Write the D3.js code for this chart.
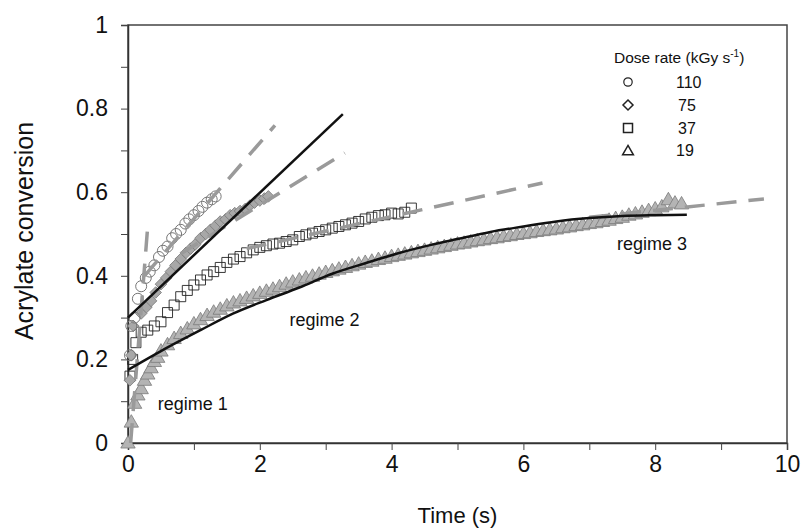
<!DOCTYPE html>
<html><head><meta charset="utf-8">
<script src="https://cdn.jsdelivr.net/npm/d3@7"></script>
<style>body{margin:0;background:#fff}text{font-family:"Liberation Sans",Arial,sans-serif;fill:#111}</style>
</head><body>
<svg id="c" width="801" height="532"></svg>
<script>
// ---- data (time s, conversion) ----
const xTicks = [0, 2, 4, 6, 8, 10];
const yTicks = [0, 0.2, 0.4, 0.6, 0.8, 1];
const yTickLabels = ["0", "0.2", "0.4", "0.6", "0.8", "1"];
const legendTitle = "Dose rate (kGy s";
const legendLabels = ["110", "75", "37", "19"];

const s110 = [[0.03,0.21],[0.05,0.28],[0.1,0.30],[0.15,0.345],[0.2,0.375],[0.27,0.395],[0.33,0.41],[0.4,0.425],[0.47,0.445],[0.53,0.46],[0.6,0.47],[0.67,0.49],[0.73,0.50],[0.8,0.51],[0.87,0.525],[0.93,0.535],[1.0,0.545],[1.07,0.555],[1.13,0.565],[1.2,0.575],[1.27,0.583],[1.33,0.59]];
const s75 = [[0.03,0.15],[0.05,0.21],[0.08,0.28],[0.2,0.31],[0.28,0.325],[0.35,0.34],[0.42,0.36],[0.5,0.38],[0.58,0.395],[0.65,0.41],[0.72,0.425],[0.8,0.44],[0.88,0.455],[0.95,0.465],[1.02,0.475],[1.1,0.49],[1.18,0.5],[1.25,0.51],[1.33,0.52],[1.4,0.53],[1.48,0.535],[1.55,0.545],[1.62,0.55],[1.7,0.555],[1.78,0.56],[1.85,0.568],[1.92,0.575],[2.0,0.58],[2.07,0.585],[2.13,0.59]];
const s37 = [[0.03,0.16],[0.07,0.2],[0.12,0.24],[0.2,0.265],[0.3,0.27],[0.4,0.28],[0.5,0.29],[0.6,0.312],[0.7,0.33],[0.8,0.35],[0.9,0.365],[1.0,0.378],[1.1,0.39],[1.2,0.402],[1.3,0.41],[1.4,0.42],[1.5,0.432],[1.6,0.44],[1.7,0.446],[1.8,0.455],[1.9,0.462],[2.0,0.468],[2.1,0.472],[2.2,0.476],[2.3,0.478],[2.4,0.482],[2.5,0.486],[2.6,0.494],[2.7,0.498],[2.8,0.502],[2.9,0.506],[3.0,0.51],[3.1,0.514],[3.2,0.518],[3.3,0.522],[3.4,0.526],[3.5,0.53],[3.6,0.536],[3.7,0.54],[3.8,0.544],[3.9,0.546],[4.0,0.55],[4.1,0.548],[4.2,0.552],[4.3,0.562]];
const s19 = [[0.0,0.0],[0.05,0.05],[0.1,0.095],[0.15,0.115],[0.2,0.13],[0.25,0.15],[0.3,0.165],[0.35,0.18],[0.4,0.195],[0.45,0.205],[0.5,0.22],[0.6,0.235],[0.7,0.25],[0.8,0.262],[0.9,0.273],[1.0,0.285],[1.1,0.295],[1.2,0.305],[1.3,0.313],[1.4,0.32],[1.5,0.328],[1.6,0.335],[1.7,0.34],[1.8,0.346],[1.9,0.352],[2.0,0.358],[2.1,0.363],[2.2,0.368],[2.3,0.374],[2.4,0.38],[2.5,0.385],[2.6,0.39],[2.7,0.395],[2.8,0.399],[2.9,0.404],[3.0,0.408],[3.1,0.412],[3.2,0.416],[3.3,0.42],[3.4,0.424],[3.5,0.428],[3.6,0.432],[3.7,0.435],[3.8,0.439],[3.9,0.442],[4.0,0.446],[4.1,0.449],[4.2,0.452],[4.3,0.455],[4.4,0.458],[4.5,0.461],[4.6,0.464],[4.7,0.467],[4.8,0.47],[4.9,0.473],[5.0,0.476],[5.1,0.478],[5.2,0.481],[5.3,0.484],[5.4,0.486],[5.5,0.489],[5.6,0.491],[5.7,0.494],[5.8,0.496],[5.9,0.499],[6.0,0.501],[6.1,0.503],[6.2,0.506],[6.3,0.508],[6.4,0.51],[6.5,0.512],[6.6,0.515],[6.7,0.517],[6.8,0.52],[6.9,0.522],[7.0,0.525],[7.1,0.527],[7.2,0.53],[7.3,0.533],[7.4,0.537],[7.5,0.54],[7.6,0.545],[7.7,0.548],[7.8,0.552],[7.9,0.556],[8.0,0.56],[8.1,0.565],[8.2,0.582],[8.3,0.574],[8.4,0.572]];

// fitted lines
const dashR1 = [[0.04,0.0],[0.3,0.52]];
const dash110 = [[0.25,0.40],[2.23,0.76]];
const dash75 = [[0.8,0.453],[3.29,0.694]];
const dash37 = [[1.8,0.465],[6.29,0.622]];
const dash19 = [[7.0,0.54],[9.65,0.584]];
const solid75 = [[0,0.30],[3.26,0.787]];
const solid19 = [[0,0.175],[0.5,0.22],[1.1,0.27],[1.6,0.31],[2.1,0.342],[2.6,0.372],[3.1,0.405],[3.6,0.43],[4.1,0.454],[4.6,0.474],[5.0,0.488],[5.5,0.505],[6.0,0.518],[6.5,0.53],[7.0,0.538],[7.5,0.543],[8.0,0.545],[8.48,0.546]];
const regimes = [["regime 1",0.45,0.079],["regime 2",2.45,0.28],["regime 3",7.42,0.462]];

// ---- layout ----
const svg = d3.select("#c");
const L = 128, R = 787, T = 25, B = 443;
const x = d3.scaleLinear().domain([0,10]).range([L,R]);
const y = d3.scaleLinear().domain([0,1]).range([B,T]);

// frame
svg.append("rect").attr("x",L).attr("y",T).attr("width",R-L).attr("height",B-T)
  .attr("fill","none").attr("stroke","#444").attr("stroke-width",1.5);

// axes
const fs = 23;
const ax = svg.append("g").attr("transform",`translate(0,${B})`)
  .call(d3.axisBottom(x).tickValues(d3.range(0,11,1)).tickSize(7).tickPadding(6)
    .tickFormat(d => xTicks.includes(d) ? String(d) : ""));
const ay = svg.append("g").attr("transform",`translate(${L},0)`)
  .call(d3.axisLeft(y).tickValues(d3.range(0,11,1).map(d=>d/10)).tickSize(7).tickPadding(13)
    .tickFormat(d => { const i = yTicks.findIndex(v=>Math.abs(v-d)<1e-6); return i>=0 ? yTickLabels[i] : ""; }));
[ax, ay].forEach(g => {
  g.select(".domain").attr("stroke","#333").attr("stroke-width",1.5);
  g.selectAll(".tick line").attr("stroke","#444");
  g.selectAll("text").style("font-size",fs+"px").style("font-family","Liberation Sans, Arial, sans-serif").attr("fill","#111");
});

svg.append("text").attr("x",(L+R)/2).attr("y",523).attr("text-anchor","middle")
  .style("font-size","22px").text("Time (s)");
svg.append("text").attr("transform",`translate(33,${231}) rotate(-90)`).attr("text-anchor","middle")
  .style("font-size","25px").text("Acrylate conversion");

// marker shapes
const tri = (s) => `M0,${-s*0.62}L${s*0.6},${s*0.42}L${-s*0.6},${s*0.42}Z`;
const dia = (s) => `M0,${-s}L${s},0L0,${s}L${-s},0Z`;
const sq = (s) => `M${-s},${-s}H${s}V${s}H${-s}Z`;

const gm = svg.append("g");
gm.selectAll(".t").data(s19).join("path").attr("d",tri(12))
  .attr("transform",d=>`translate(${x(d[0])},${y(d[1])})`)
  .attr("fill","#b4b4b4").attr("stroke","#7a7a7a").attr("stroke-width",0.8);
gm.selectAll(".s").data(s37).join("path").attr("d",sq(5))
  .attr("transform",d=>`translate(${x(d[0])},${y(d[1])})`)
  .attr("fill","none").attr("stroke","#222").attr("stroke-width",0.9);
gm.selectAll(".d").data(s75).join("path").attr("d",dia(5.8))
  .attr("transform",d=>`translate(${x(d[0])},${y(d[1])})`)
  .attr("fill","#a8a8a8").attr("stroke","#777").attr("stroke-width",0.8);
gm.selectAll(".c").data(s110).join("circle").attr("r",5.5)
  .attr("cx",d=>x(d[0])).attr("cy",d=>y(d[1]))
  .attr("fill","none").attr("stroke","#777").attr("stroke-width",1);

// lines
const line = d3.line().x(d=>x(d[0])).y(d=>y(d[1]));
const curve = d3.line().x(d=>x(d[0])).y(d=>y(d[1])).curve(d3.curveMonotoneX);
[dashR1, dash110, dash75, dash37, dash19].forEach(a => {
  svg.append("path").attr("d",line(a)).attr("fill","none").attr("stroke","#9a9a9a")
    .attr("stroke-width",3.5).attr("stroke-dasharray","20,12");
});
svg.append("path").attr("d",line(solid75)).attr("fill","none").attr("stroke","#111").attr("stroke-width",2.5);
svg.append("path").attr("d",curve(solid19)).attr("fill","none").attr("stroke","#111").attr("stroke-width",2.5);

// regime labels
regimes.forEach(r => svg.append("text").attr("x",x(r[1])).attr("y",y(r[2]))
  .style("font-size","18px").text(r[0]));

// legend
const lt = svg.append("text").attr("x",614).attr("y",63).style("font-size","15.5px");
lt.append("tspan").text(legendTitle);
lt.append("tspan").attr("dy",-6).style("font-size","10px").text("-1");
lt.append("tspan").attr("dy",6).text(")");
const ly = [82, 105, 128, 150];
const lshapes = [null, dia(5), sq(4.5), tri(9)];
legendLabels.forEach((t,i) => {
  if (i===0) svg.append("circle").attr("cx",628).attr("cy",ly[i]).attr("r",4.2)
    .attr("fill","none").attr("stroke","#222").attr("stroke-width",1.2);
  else svg.append("path").attr("d",lshapes[i]).attr("transform",`translate(628,${ly[i]+(i===3?1:0)})`)
    .attr("fill","none").attr("stroke","#222").attr("stroke-width",1.5);
  svg.append("text").attr("x",i===0||i===3?676:678).attr("y",ly[i]+6).style("font-size","16px").text(t);
});
</script>
</body></html>
